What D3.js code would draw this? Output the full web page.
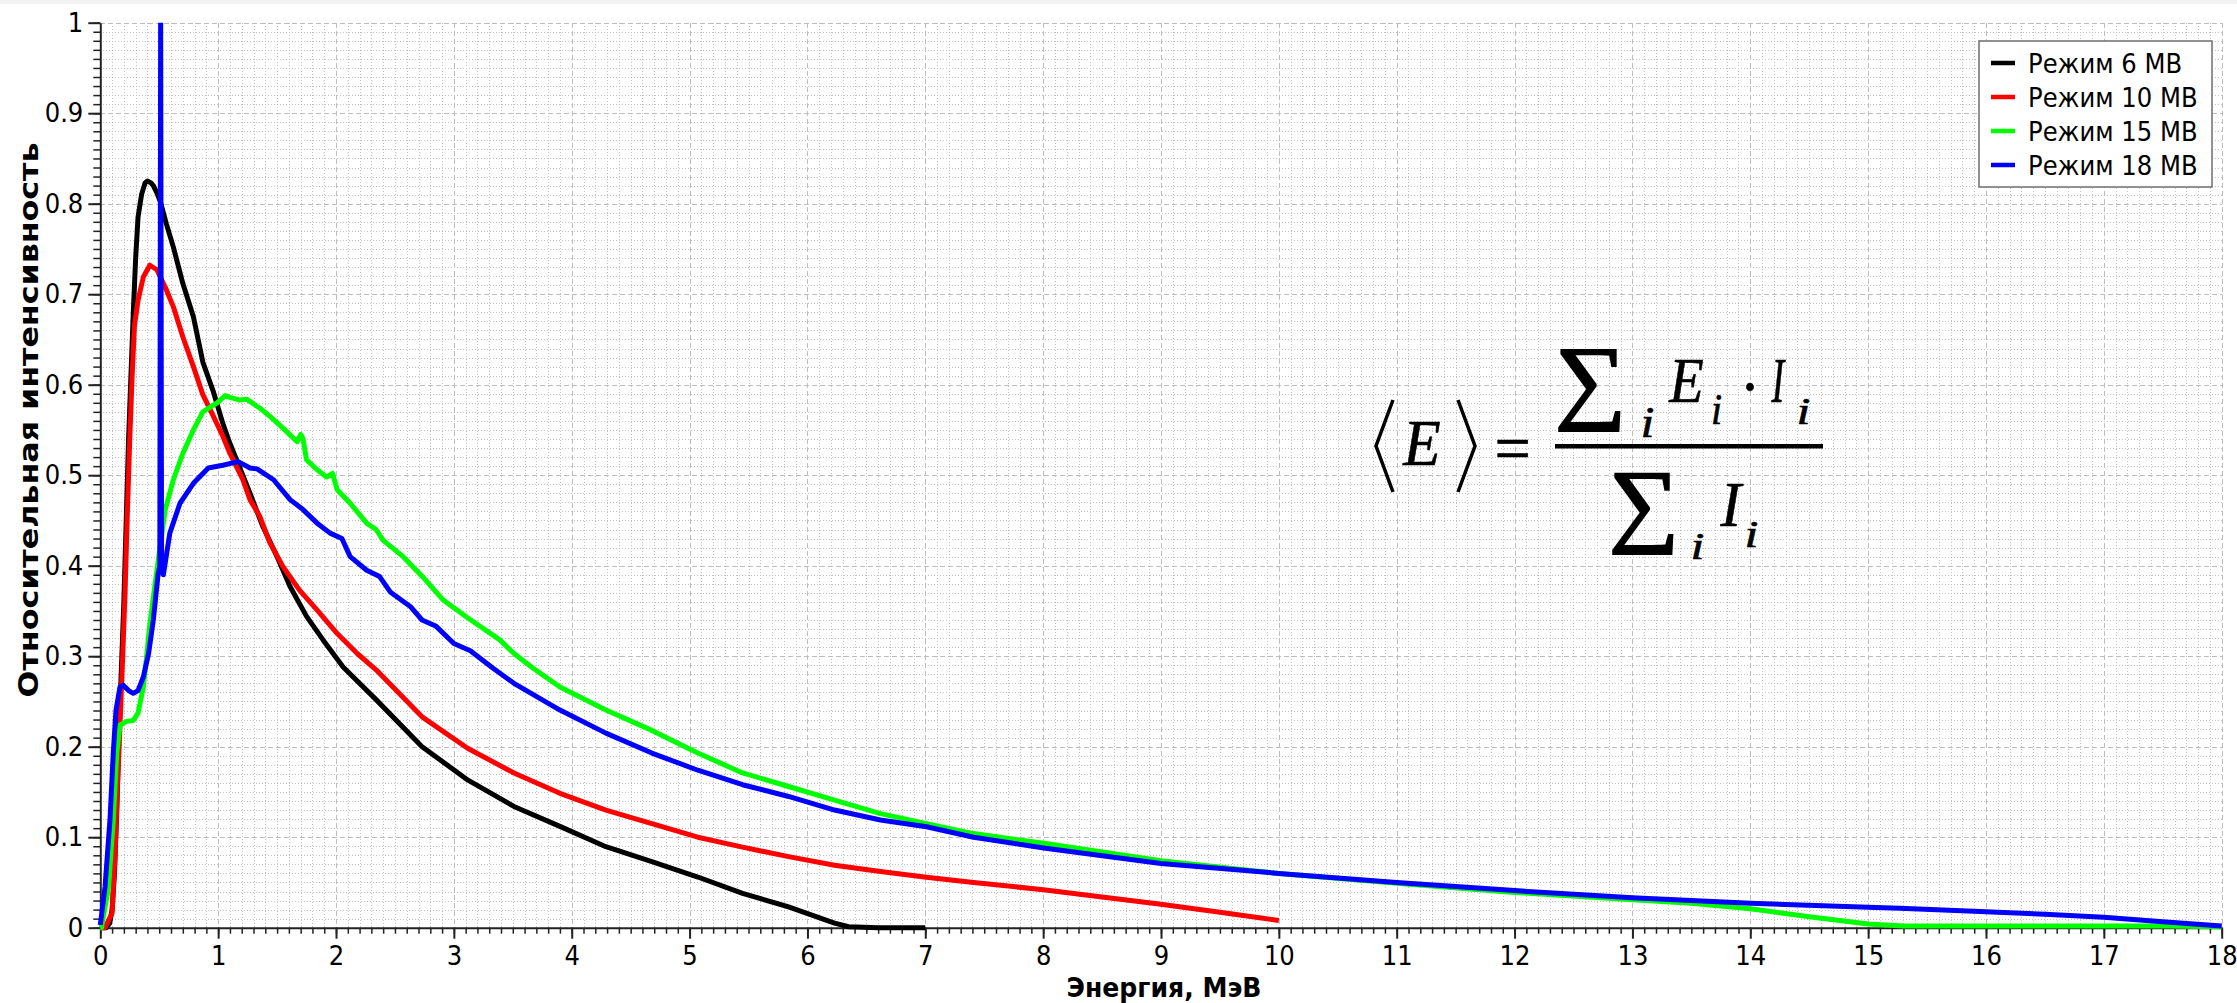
<!DOCTYPE html>
<html>
<head>
<meta charset="utf-8">
<script src="https://cdn.jsdelivr.net/npm/d3@7"></script>
<style>
    body { margin: 0; background: #fff; }
    svg { display: block; }
    .axis text { font-family: "DejaVu Sans Condensed", "DejaVu Sans", Verdana, sans-serif; font-size: 27px; fill: #000; }
    .axis path, .axis line { stroke: #222; }
</style>
</head>
<body>
<svg id="chart" width="2237" height="1003"></svg>
<script>
// Spectra: energy (MeV) and relative intensity per mode
const seriesNames = ['Режим 6 МВ', 'Режим 10 МВ', 'Режим 15 МВ', 'Режим 18 МВ'];

const mode6Energy = [0, 0.05, 0.08, 0.10, 0.12, 0.14, 0.16, 0.18, 0.20, 0.22, 0.24, 0.26, 0.28, 0.30, 0.32,
    0.35, 0.38, 0.40, 0.43, 0.45, 0.48, 0.51, 0.56, 0.62, 0.70, 0.79, 0.87, 0.96, 1.04, 1.10, 1.19, 1.27,
    1.38, 1.50, 1.61, 1.75, 1.89, 2.06, 2.34, 2.73, 3.12, 3.51, 3.90, 4.29, 4.68, 5.07, 5.45, 5.84, 6.23,
    6.35, 6.60, 7.00];
const mode6Intensity = [0, 0, 0.005, 0.02, 0.06, 0.13, 0.22, 0.29, 0.36, 0.45, 0.54, 0.61, 0.68, 0.74, 0.785,
    0.81, 0.823, 0.825, 0.823, 0.82, 0.812, 0.802, 0.778, 0.752, 0.712, 0.675, 0.625, 0.592, 0.557, 0.535,
    0.506, 0.48, 0.443, 0.41, 0.377, 0.344, 0.318, 0.288, 0.252, 0.20, 0.163, 0.134, 0.112, 0.0895, 0.073,
    0.056, 0.038, 0.023, 0.005, 0.001, 0, 0];

const mode10Energy = [0, 0.04, 0.10, 0.125, 0.145, 0.16, 0.175, 0.19, 0.21, 0.23, 0.25, 0.27, 0.29, 0.32,
    0.365, 0.42, 0.48, 0.56, 0.62, 0.70, 0.79, 0.87, 0.96, 1.04, 1.10, 1.21, 1.27, 1.355, 1.44, 1.55, 1.69,
    1.84, 2.01, 2.18, 2.34, 2.73, 3.12, 3.51, 3.90, 4.29, 4.68, 5.07, 5.45, 5.84, 6.23, 6.62, 7.01, 7.41,
    8.02, 8.50, 9.00, 9.50, 10.00];
const mode10Intensity = [0, 0, 0.016, 0.08, 0.156, 0.20, 0.25, 0.30, 0.37, 0.46, 0.54, 0.61, 0.665, 0.693,
    0.719, 0.732, 0.727, 0.705, 0.686, 0.653, 0.62, 0.589, 0.565, 0.543, 0.524, 0.495, 0.473, 0.454, 0.425,
    0.399, 0.373, 0.351, 0.325, 0.303, 0.285, 0.233, 0.198, 0.171, 0.1485, 0.130, 0.115, 0.100, 0.089,
    0.0785, 0.069, 0.062, 0.0557, 0.050, 0.0417, 0.034, 0.026, 0.017, 0.008];

const mode15Energy = [0, 0.01, 0.07, 0.11, 0.14, 0.167, 0.224, 0.28, 0.32, 0.365, 0.39, 0.42, 0.48, 0.55,
    0.62, 0.70, 0.79, 0.87, 0.99, 1.06, 1.10, 1.185, 1.24, 1.355, 1.44, 1.55, 1.67, 1.70, 1.72, 1.75, 1.84,
    1.92, 1.97, 2.01, 2.12, 2.26, 2.34, 2.40, 2.57, 2.74, 2.91, 3.11, 3.39, 3.51, 3.67, 3.90, 4.29, 4.68,
    5.07, 5.45, 5.84, 6.23, 6.62, 7.01, 7.41, 8.02, 9, 10, 11, 12, 13, 13.5, 14, 14.5, 15, 15.3, 16, 17,
    17.5, 18];
const mode15Intensity = [0, 0, 0.045, 0.119, 0.193, 0.224, 0.228, 0.229, 0.237, 0.266, 0.296, 0.335, 0.395,
    0.4615, 0.495, 0.524, 0.55, 0.57, 0.58, 0.588, 0.586, 0.583, 0.584, 0.574, 0.565, 0.552, 0.537, 0.545,
    0.540, 0.517, 0.506, 0.498, 0.502, 0.484, 0.469, 0.447, 0.44, 0.428, 0.41, 0.387, 0.362, 0.343, 0.318,
    0.303, 0.287, 0.266, 0.2405, 0.218, 0.193, 0.171, 0.156, 0.141, 0.126, 0.115, 0.104, 0.093, 0.074,
    0.060, 0.049, 0.039, 0.031, 0.027, 0.021, 0.012, 0.004, 0.002, 0.002, 0.002, 0.002, 0.001];

const mode18Energy = [0, 0.04, 0.082, 0.11, 0.133, 0.167, 0.195, 0.24, 0.28, 0.32, 0.365, 0.41, 0.45, 0.49,
    0.505, 0.512, 0.52, 0.535, 0.59, 0.676, 0.79, 0.916, 1.04, 1.17, 1.27, 1.33, 1.47, 1.61, 1.72, 1.84,
    1.95, 2.05, 2.12, 2.26, 2.37, 2.46, 2.63, 2.73, 2.85, 3.00, 3.14, 3.33, 3.51, 3.90, 4.29, 4.68, 5.07,
    5.45, 5.84, 6.23, 6.62, 7.01, 7.41, 8.02, 9, 10, 11, 12, 13, 14, 15, 15.27, 16, 16.5, 17, 17.5, 18];
const mode18Intensity = [0.003, 0.045, 0.119, 0.193, 0.24, 0.266, 0.268, 0.262, 0.259, 0.262, 0.277, 0.303,
    0.34, 0.39, 0.40, 1.0, 0.40, 0.39, 0.436, 0.469, 0.491, 0.508, 0.511, 0.515, 0.508, 0.507, 0.495, 0.473,
    0.462, 0.447, 0.436, 0.43, 0.41, 0.395, 0.388, 0.371, 0.355, 0.34, 0.333, 0.314, 0.306, 0.287, 0.27,
    0.2405, 0.215, 0.193, 0.174, 0.158, 0.145, 0.130, 0.119, 0.1116, 0.100, 0.0877, 0.071, 0.060, 0.050,
    0.041, 0.033, 0.027, 0.0225, 0.0214, 0.0177, 0.0148, 0.0115, 0.0066, 0.002];

const xTickValues = d3.range(0, 19);
const yTickValues = d3.range(0, 11).map(i => i / 10);

const seriesColors = ['#000000', '#ff0000', '#00ff00', '#0000ff'];

const series = [
    [mode6Energy, mode6Intensity],
    [mode10Energy, mode10Intensity],
    [mode15Energy, mode15Intensity],
    [mode18Energy, mode18Intensity]
].map(([es, is], k) => ({
    name: seriesNames[k],
    color: seriesColors[k],
    points: es.map((e, i) => ({ e, v: is[i] }))
}));

const width = 2237, height = 1003;
const plot = { left: 100.3, right: 2221.7, top: 22.7, bottom: 927.7 };
const sans = '"DejaVu Sans Condensed", "DejaVu Sans", Verdana, sans-serif';

const svg = d3.select('#chart');

const x = d3.scaleLinear().domain([0, 18]).range([plot.left, plot.right]);
const y = d3.scaleLinear().domain([0, 1]).range([plot.bottom, plot.top]);

// thin grey frame strip at the top of the screenshot
svg.append('rect').attr('x', 0).attr('y', 0).attr('width', width).attr('height', 4).attr('fill', '#f3f3f3');

// grid: dotted minor lines every 0.1 MeV / 0.01, dashed major lines every 1 MeV / 0.1
const grid = svg.append('g').attr('class', 'grid').attr('shape-rendering', 'crispEdges');
const xMinor = d3.range(1, 181).filter(i => i % 10 !== 0).map(i => i / 10);
const yMinor = d3.range(1, 101).filter(i => i % 10 !== 0).map(i => i / 100);

grid.selectAll('.gx-minor').data(xMinor).enter().append('line')
    .attr('x1', d => Math.round(x(d)) + 0.5).attr('x2', d => Math.round(x(d)) + 0.5)
    .attr('y1', plot.top).attr('y2', plot.bottom)
    .attr('stroke', '#c2c2c2').attr('stroke-dasharray', '1,2');
grid.selectAll('.gy-minor').data(yMinor).enter().append('line')
    .attr('y1', d => Math.round(y(d)) + 0.5).attr('y2', d => Math.round(y(d)) + 0.5)
    .attr('x1', plot.left).attr('x2', plot.right)
    .attr('stroke', '#c2c2c2').attr('stroke-dasharray', '1,2');
grid.selectAll('.gx-major').data(xTickValues.slice(1)).enter().append('line')
    .attr('x1', d => Math.round(x(d)) + 0.5).attr('x2', d => Math.round(x(d)) + 0.5)
    .attr('y1', plot.top).attr('y2', plot.bottom)
    .attr('stroke', '#bdbdbd').attr('stroke-width', 1.5).attr('stroke-dasharray', '5,3');
grid.selectAll('.gy-major').data(yTickValues.slice(1)).enter().append('line')
    .attr('y1', d => Math.round(y(d)) + 0.5).attr('y2', d => Math.round(y(d)) + 0.5)
    .attr('x1', plot.left).attr('x2', plot.right)
    .attr('stroke', '#bdbdbd').attr('stroke-width', 1.5).attr('stroke-dasharray', '5,3');

// axes
const fmt = d3.format('.1~f');

svg.append('g').attr('class', 'axis')
    .attr('transform', `translate(0,${plot.bottom})`)
    .call(d3.axisBottom(x).tickValues(d3.range(0, 181).map(i => i / 10)).tickSize(6).tickFormat('').tickSizeOuter(0))
    .call(g => g.select('.domain').remove())
    .call(g => g.selectAll('line').attr('stroke-width', 1.5));
svg.append('g').attr('class', 'axis')
    .attr('transform', `translate(0,${plot.bottom})`)
    .call(d3.axisBottom(x).tickValues(xTickValues).tickSize(11).tickPadding(7).tickFormat(fmt).tickSizeOuter(0))
    .call(g => g.select('.domain').attr('stroke-width', 2))
    .call(g => g.selectAll('line').attr('stroke-width', 2));

svg.append('g').attr('class', 'axis')
    .attr('transform', `translate(${plot.left},0)`)
    .call(d3.axisLeft(y).tickValues(d3.range(0, 101).map(i => i / 100)).tickSize(7).tickFormat('').tickSizeOuter(0))
    .call(g => g.select('.domain').remove())
    .call(g => g.selectAll('line').attr('stroke-width', 1.5));
svg.append('g').attr('class', 'axis')
    .attr('transform', `translate(${plot.left},0)`)
    .call(d3.axisLeft(y).tickValues(yTickValues).tickSize(12).tickPadding(5).tickFormat(fmt).tickSizeOuter(0))
    .call(g => g.select('.domain').attr('stroke-width', 2))
    .call(g => g.selectAll('line').attr('stroke-width', 2));

// axis titles
svg.append('text')
    .attr('x', 1164).attr('y', 997)
    .attr('text-anchor', 'middle')
    .attr('font-family', sans)
    .attr('font-weight', 'bold').attr('font-size', 27)
    .attr('textLength', 195).attr('lengthAdjust', 'spacingAndGlyphs')
    .text('Энергия, МэВ');

svg.append('text')
    .attr('transform', 'translate(38,420) rotate(-90)')
    .attr('text-anchor', 'middle')
    .attr('font-family', sans)
    .attr('font-weight', 'bold').attr('font-size', 27)
    .attr('textLength', 555).attr('lengthAdjust', 'spacingAndGlyphs')
    .text('Относительная интенсивность');

// curves
svg.append('clipPath').attr('id', 'plot-clip')
    .append('rect').attr('x', 0).attr('y', plot.top).attr('width', width).attr('height', height - plot.top);

const line = d3.line().x(d => x(d.e)).y(d => y(d.v));

svg.append('g').attr('clip-path', 'url(#plot-clip)')
    .selectAll('path').data(series).enter().append('path')
    .attr('d', d => line(d.points))
    .attr('fill', 'none')
    .attr('stroke', d => d.color)
    .attr('stroke-width', 5)
    .attr('stroke-linejoin', 'round');

// legend
const legend = svg.append('g').attr('class', 'legend');
legend.append('rect')
    .attr('x', 1979).attr('y', 41).attr('width', 233).attr('height', 146)
    .attr('fill', '#fff').attr('stroke', '#6e6e6e').attr('stroke-width', 1.5);
const rows = legend.selectAll('g').data(series).enter().append('g')
    .attr('transform', (d, i) => `translate(1991,${63 + i * 34})`);
rows.append('line').attr('x1', 0).attr('x2', 24)
    .attr('stroke', d => d.color).attr('stroke-width', 4.5);
rows.append('text').attr('x', 37).attr('dy', '0.36em')
    .attr('font-family', sans).attr('font-size', 27)
    .text(d => d.name);

// mean energy formula, glyphs fitted to their ink boxes
const ctx = document.createElement('canvas').getContext('2d');
const serif = '"Liberation Serif", "Times New Roman", serif';

function fitText(g, str, italic, box, weight = 0.6) {
    const base = 100;
    ctx.font = `${italic ? 'italic ' : ''}${base}px ${serif}`;
    const m = ctx.measureText(str);
    const left = -m.actualBoundingBoxLeft, right = m.actualBoundingBoxRight;
    const top = -m.actualBoundingBoxAscent, bottom = m.actualBoundingBoxDescent;
    const sy = (box[3] - box[1]) / (bottom - top);
    const sx = (box[2] - box[0]) / (right - left);
    g.append('text')
        .attr('transform', `translate(${box[0] - left * sx},${box[1] - top * sy}) scale(${sx / sy},1)`)
        .attr('font-family', serif)
        .attr('font-style', italic ? 'italic' : 'normal')
        .attr('font-size', base * sy)
        .attr('stroke', '#000').attr('stroke-width', weight)
        .text(str);
}

const formula = svg.append('g').attr('class', 'formula');
formula.append('path').attr('d', 'M1393,400L1376,446L1393,492')
    .attr('fill', 'none').attr('stroke', '#000').attr('stroke-width', 3.5);
formula.append('path').attr('d', 'M1458,400L1475,446L1458,492')
    .attr('fill', 'none').attr('stroke', '#000').attr('stroke-width', 3.5);
fitText(formula, 'E', true, [1402, 423, 1440, 466]);
fitText(formula, '=', false, [1497, 440, 1528, 457]);
formula.append('rect').attr('x', 1555).attr('y', 444).attr('width', 268).attr('height', 4.5).attr('fill', '#000');

fitText(formula, '∑', false, [1559, 349, 1620, 431], 2.2);
fitText(formula, 'i', true, [1643, 407, 1653, 437]);
fitText(formula, 'E', true, [1668, 361, 1703, 403]);
fitText(formula, 'i', true, [1713, 395, 1721, 424]);
fitText(formula, '·', false, [1746, 383, 1754, 391]);
fitText(formula, 'I', true, [1771, 361, 1786, 403]);
fitText(formula, 'i', true, [1799, 399, 1809, 424]);

fitText(formula, '∑', false, [1613, 473, 1673, 554], 2.2);
fitText(formula, 'i', true, [1693, 533, 1703, 559]);
fitText(formula, 'I', true, [1720, 485, 1744, 527]);
fitText(formula, 'i', true, [1747, 522, 1757, 547]);
</script>
</body>
</html>
